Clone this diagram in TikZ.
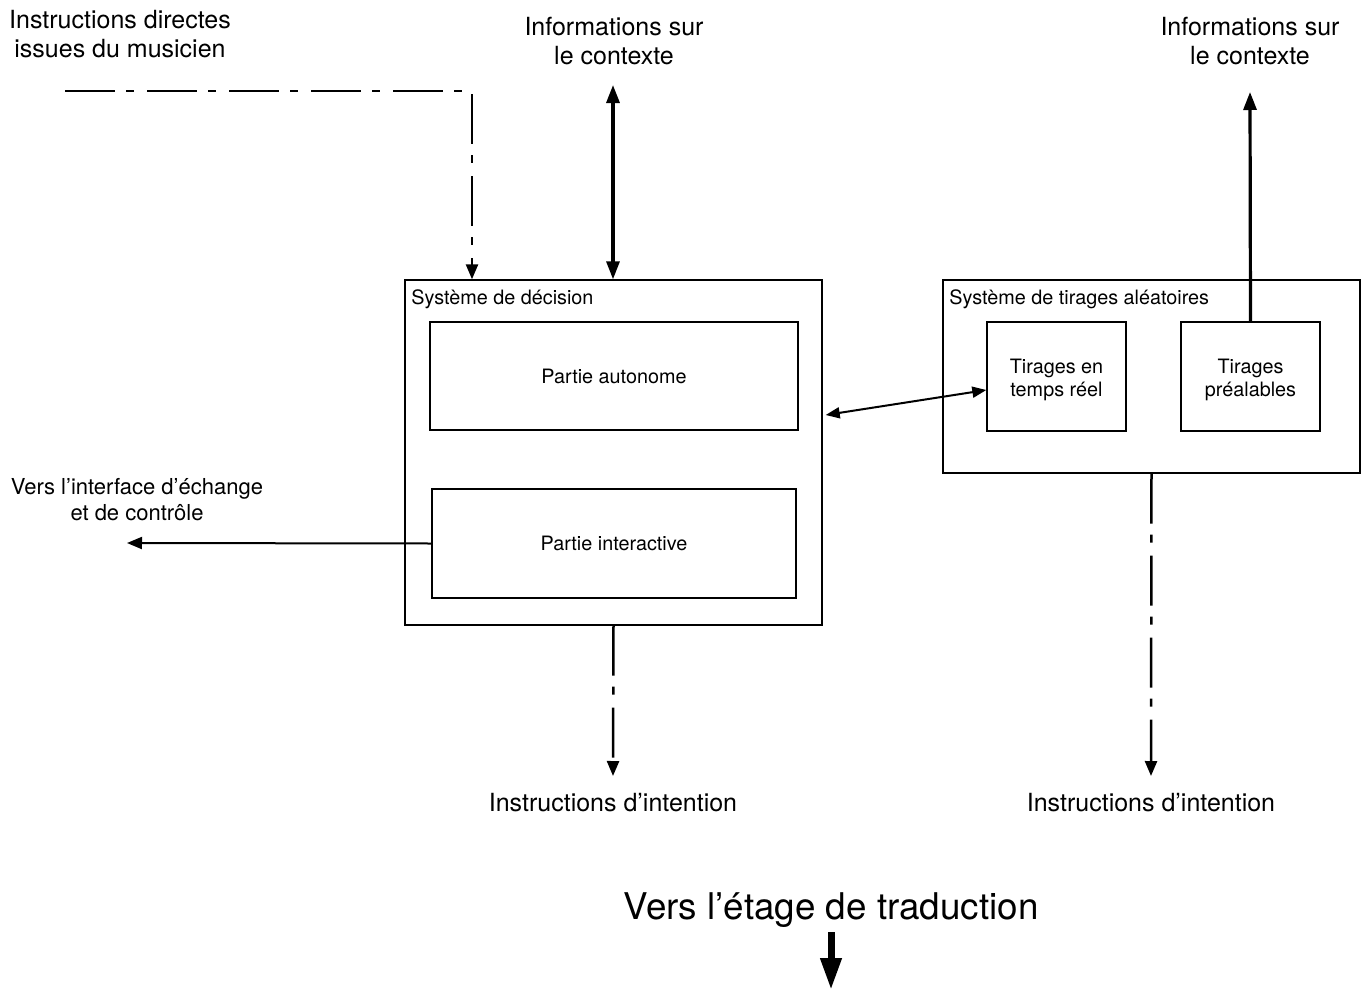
\documentclass[tikz,border=0pt]{standalone}
\usepackage{fontspec}
\setmainfont{TeX Gyre Heros}
\usetikzlibrary{arrows.meta}
\newcommand{\lowered}[1]{\raisebox{-2pt}[\height][\depth]{\begin{tabular}{@{}c@{}}#1\end{tabular}}}
\begin{document}
\begin{tikzpicture}[x=0.5pt,y=-0.5pt,
  box/.style={draw, line width=0.7pt, inner sep=0pt, align=center,
    font=\fontsize{9.9}{11.5}\selectfont},
  ttl/.style={inner sep=0pt, anchor=west, font=\fontsize{9.9}{11.5}\selectfont},
  lbl/.style={inner sep=0pt, align=center, font=\fontsize{12.5}{14.5}\selectfont},
  smalllbl/.style={inner sep=0pt, align=center, font=\fontsize{11}{13}\selectfont},
  biglbl/.style={inner sep=0pt, font=\fontsize{18.4}{22}\selectfont},
  dashdot/.style={line width=1.25pt, dash pattern=on 25pt off 5.5pt on 4pt off 6.5pt},
  thin tip/.style={-{Triangle[length=7.5pt,width=6pt]}},
  link/.style={line width=1pt},
  thick link/.style={line width=1.6pt},
]
\useasboundingbox (0,0) rectangle (1367,991);

% decision system
\node[box, minimum width=208.5pt, minimum height=172.5pt] (dec) at (613.5,452.5) {};
\node[ttl] (dectitle) at (411,299) {Système de décision};
\node[box, minimum width=184pt, minimum height=54pt] (auto) at (614,376) {Partie autonome};
\node[box, minimum width=182pt, minimum height=54.5pt] (inter) at (614,543.5) {Partie interactive};

% random draw system
\node[box, minimum width=208.5pt, minimum height=96.5pt] (rnd) at (1151.5,376.5) {};
\node[ttl] (rndtitle) at (949,299) {Système de tirages aléatoires};
\node[box, minimum width=69.5pt, minimum height=54.5pt] (rt) at (1056.5,376.5) {\lowered{Tirages en\\temps réel}};
\node[box, minimum width=69.5pt, minimum height=54.5pt] (pre) at (1250.5,376.5) {\lowered{Tirages\\préalables}};

% outer labels
\node[lbl] (musicien) at (120,34) {Instructions directes\\issues du musicien};
\node[lbl] (ctx1) at (614,41) {Informations sur\\le contexte};
\node[lbl] (ctx2) at (1250,41) {Informations sur\\le contexte};
\node[smalllbl] (iface) at (137,500) {Vers l’interface d’échange\\et de contrôle};
\node[lbl] (int1) at (613,803) {Instructions d’intention};
\node[lbl] (int2) at (1151,803) {Instructions d’intention};
\node[biglbl] (trad) at (831,910) {Vers l’étage de traduction};

% free ends of connectors
\coordinate (mstart) at (65,91);
\coordinate (mcorner) at (472,91);
\coordinate (ctx1end) at (613,85);
\coordinate (ctx2end) at (1250,92);
\coordinate (ifaceend) at (127,543);
\coordinate (int1end) at (613,776);
\coordinate (int2end) at (1151,776);
\coordinate (tradtop) at (831,932);
\coordinate (tradend) at (831,990);

% connectors
\draw[dashdot, thin tip] (mstart) -- (mcorner) -- (mcorner |- dec.north);
\draw[thick link, {Triangle[length=9pt,width=6.5pt]}-{Triangle[length=9pt,width=6.5pt]}]
  (ctx1end) -- (ctx1end |- dec.north);
\draw[thick link, -{Triangle[length=9pt,width=6.5pt]}] (pre.north) -- (ctx2end);
\draw[link, {Triangle[length=7pt,width=5.5pt]}-{Triangle[length=7pt,width=5.5pt]}]
  ([xshift=1.5pt,yshift=18.75pt]dec.east) -- ([yshift=-6.75pt]rt.west);
\draw[link, thin tip] (inter.west) -- (ifaceend);
\draw[dashdot, thin tip] (dec.south) -- (int1end);
\draw[dashdot, thin tip] (rnd.south) -- (int2end);
\draw[line width=3.5pt, -{Triangle[length=16pt,width=10pt]}] (tradtop) -- (tradend);
\end{tikzpicture}
\end{document}
